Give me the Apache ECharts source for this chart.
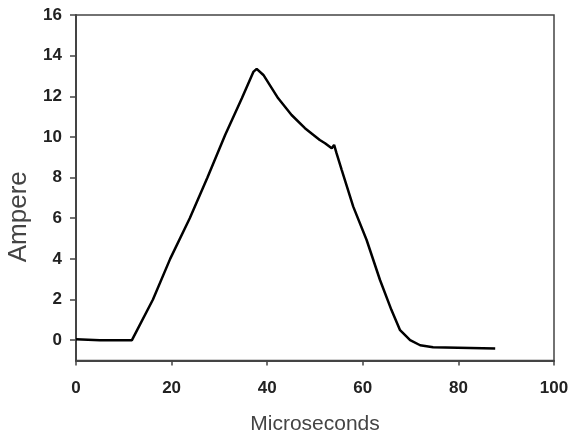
<!DOCTYPE html>
<html>
<head>
<meta charset="utf-8">
<script src="https://cdn.jsdelivr.net/npm/echarts@6/dist/echarts.min.js"></script>
<style>
  html, body { margin: 0; padding: 0; background: #fff; }
  #chart { width: 571px; height: 434px; }
</style>
</head>
<body>
<div id="chart"></div>
<script>
// time in microseconds
const timeUs = [0, 5.0, 5.4, 5.8, 7.0, 7.3, 7.6, 11.7, 12.0, 16.1, 19.7, 23.8, 27.5, 31.2, 34.7, 37.1, 37.8, 39.2, 42.3, 45.1, 47.9, 51.0, 52.1, 53.5, 54.0, 54.5, 55.6, 58.0, 60.8, 63.6, 66.0, 67.8, 69.9, 72.0, 74.7, 87.7]
// current in ampere
const currentA = [0.05, 0, 0.08, 0, 0, 0.07, 0, 0, 0.05, 2.0, 4.0, 6.0, 8.0, 10.1, 11.9, 13.2, 13.35, 13.05, 11.9, 11.08, 10.43, 9.85, 9.69, 9.44, 9.61, 9.2, 8.37, 6.57, 4.93, 2.96, 1.48, 0.49, 0, -0.25, -0.35, -0.41]
const yTicks = [0, 2, 4, 6, 8, 10, 12, 14, 16]

const chart = echarts.init(document.getElementById('chart'))

const option = {
  animation: false,
  backgroundColor: '#fff',
  grid: {
    left: 76, right: 17, top: 15, bottom: 73.5,
    outerBoundsMode: 'none',
    show: true, borderColor: '#444', borderWidth: 1.5,
  },
  xAxis: {
    type: 'value',
    min: 0, max: 100, interval: 20,
    name: 'Microseconds',
    nameLocation: 'middle',
    nameGap: 53,
    nameTextStyle: { fontFamily: 'Liberation Sans', fontSize: 21, color: '#444' },
    axisLine: { onZero: false, lineStyle: { color: '#444', width: 2 } },
    axisTick: { show: true, length: 5, lineStyle: { color: '#444', width: 1.5 } },
    axisLabel: { margin: 19, fontFamily: 'Liberation Sans', fontWeight: 'bold', fontSize: 17, color: '#222' },
    splitLine: { show: false },
  },
  yAxis: {
    type: 'value',
    min: -1, max: 16,
    name: 'Ampere',
    nameLocation: 'middle',
    nameGap: 40,
    nameRotate: 90,
    nameTextStyle: { fontFamily: 'Liberation Sans', fontSize: 26, color: '#444', padding: [0, 58, 0, 0] },
    axisLine: { onZero: false, lineStyle: { color: '#444', width: 2 } },
    axisTick: { show: true, length: 6, customValues: yTicks, lineStyle: { color: '#444', width: 1.5 } },
    axisLabel: { margin: 14, customValues: yTicks, fontFamily: 'Liberation Sans', fontWeight: 'bold', fontSize: 17, color: '#222' },
    splitLine: { show: false },
  },
  series: [{
    type: 'line',
    data: timeUs.map((t, i) => [t, currentA[i]]),
    showSymbol: false,
    lineStyle: { color: '#000', width: 2.5 },
  }],
}

chart.setOption(option)
</script>
</body>
</html>
